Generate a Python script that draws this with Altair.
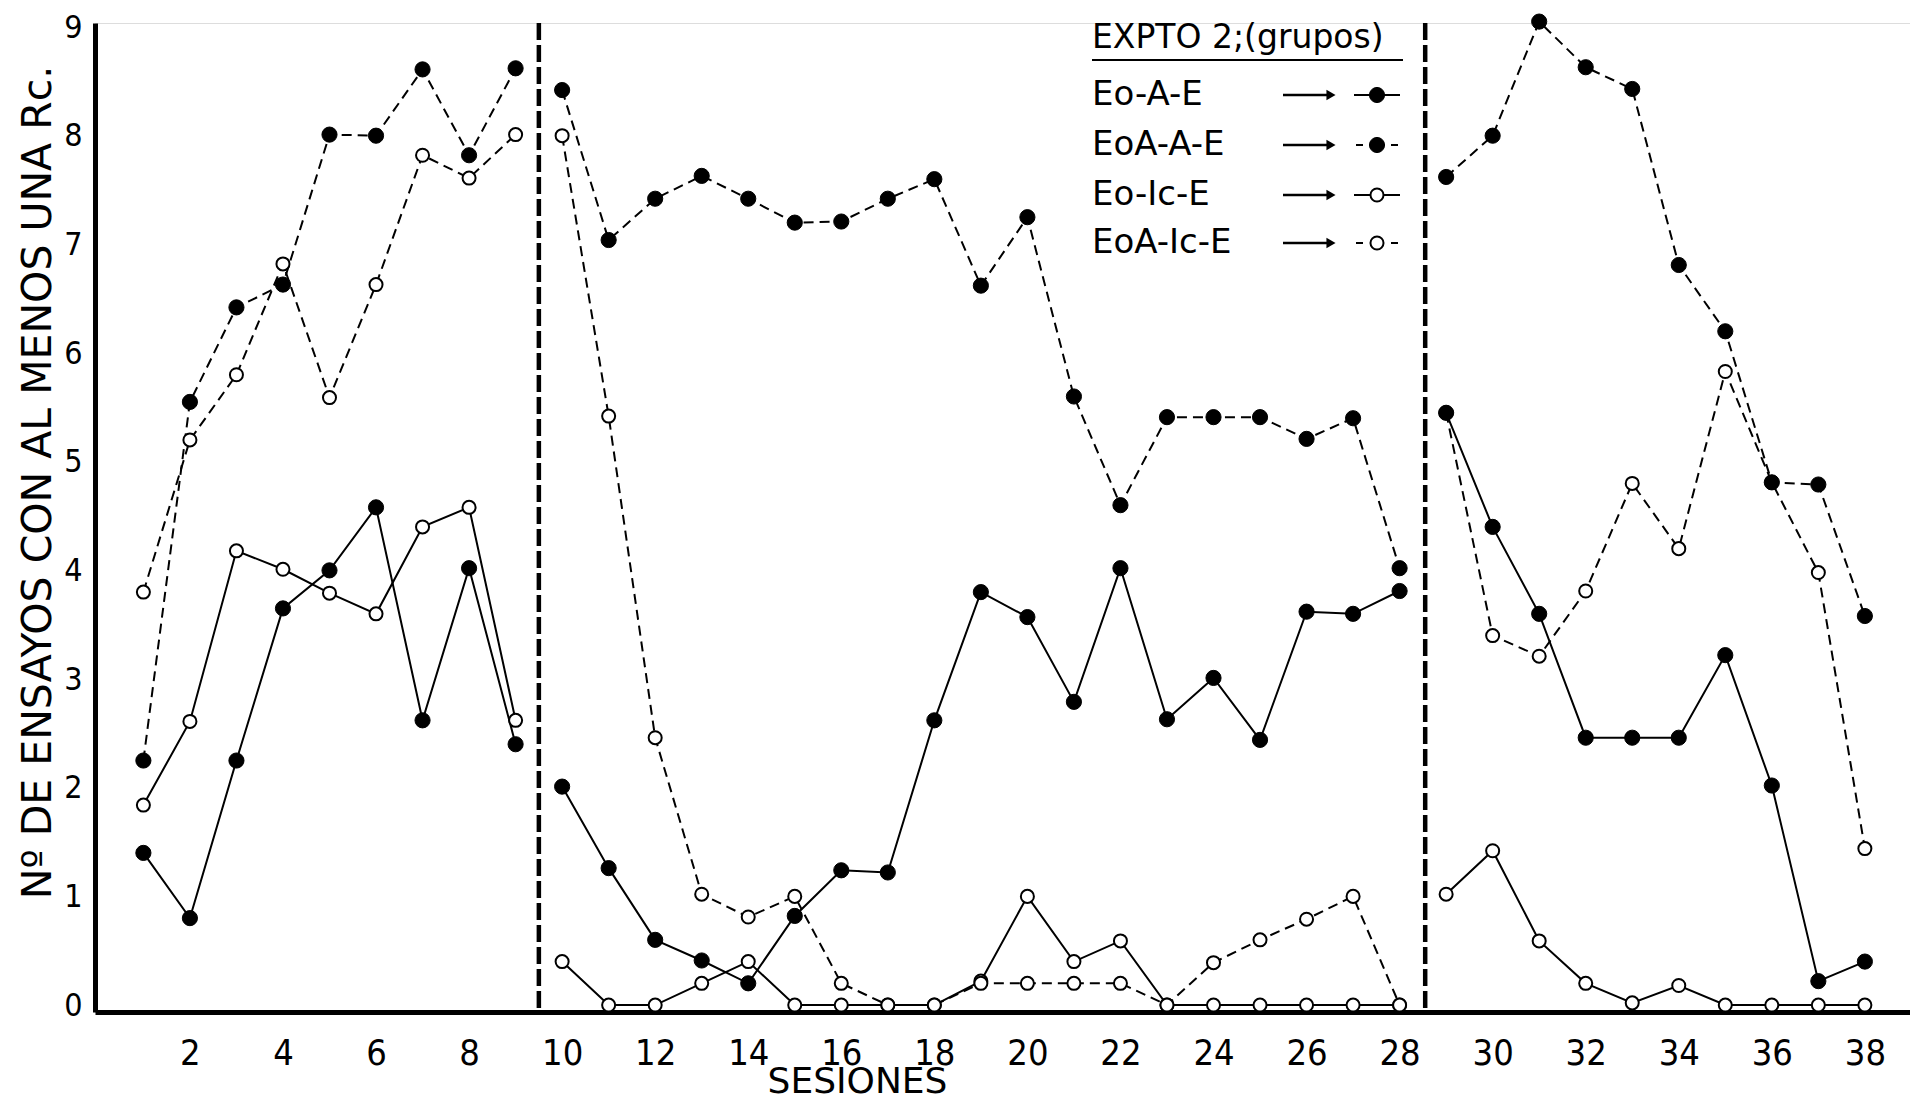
import altair as alt
import pandas as pd

# ---------------- data ----------------
sessions = list(range(1, 39))
series_names = ["Eo-A-E", "EoA-A-E", "Eo-Ic-E", "EoA-Ic-E"]

eo_a_e = [1.4, 0.8, 2.25, 3.65, 4.0, 4.58, 2.62, 4.02, 2.4,
          2.01, 1.26, 0.6, 0.41, 0.2, 0.82, 1.24, 1.22, 2.62, 3.8,
          3.57, 2.79, 4.02, 2.63, 3.01, 2.44, 3.62, 3.6, 3.81,
          5.45, 4.4, 3.6, 2.46, 2.46, 2.46, 3.22, 2.02, 0.22, 0.4]

eoa_a_e = [2.25, 5.55, 6.42, 6.63, 8.01, 8.0, 8.61, 7.82, 8.62,
           8.42, 7.04, 7.42, 7.63, 7.42, 7.2, 7.21, 7.42, 7.6, 6.62,
           7.25, 5.6, 4.6, 5.41, 5.41, 5.41, 5.21, 5.4, 4.02,
           7.62, 8.0, 9.05, 8.63, 8.43, 6.81, 6.2, 4.81, 4.79, 3.58]

eo_ic_e = [1.84, 2.61, 4.18, 4.01, 3.79, 3.6, 4.4, 4.58, 2.62,
           0.4, 0.0, 0.0, 0.2, 0.4, 0.0, 0.0, 0.0, 0.0, 0.22,
           1.0, 0.4, 0.59, 0.0, 0.0, 0.0, 0.0, 0.0, 0.0,
           1.02, 1.42, 0.59, 0.2, 0.02, 0.18, 0.0, 0.0, 0.0, 0.0]

eoa_ic_e = [3.8, 5.2, 5.8, 6.82, 5.59, 6.63, 7.82, 7.61, 8.01,
            8.0, 5.42, 2.46, 1.02, 0.81, 1.0, 0.2, 0.0, 0.0, 0.2,
            0.2, 0.2, 0.2, 0.0, 0.39, 0.6, 0.79, 1.0, 0.0,
            5.45, 3.4, 3.21, 3.81, 4.8, 4.2, 5.83, 4.81, 3.98, 1.44]

segment_last = [9, 28]          # lines are broken after these sessions
break_positions = [9.5, 28.55]  # vertical dashed separators
x_ticks = list(range(2, 39, 2))
y_ticks = list(range(0, 10))

# ---------------- table ----------------
rows = []
for name, vals in zip(series_names, [eo_a_e, eoa_a_e, eo_ic_e, eoa_ic_e]):
    for s, v in zip(sessions, vals):
        seg = 1 if s <= segment_last[0] else (2 if s <= segment_last[1] else 3)
        rows.append({
            "session": s, "value": v, "series": name,
            "grp": f"{name}|{seg}",
            "marker": "filled" if "-A-" in name else "open",
            "line": "dashed" if name.startswith("EoA") else "solid",
        })
df = pd.DataFrame(rows)

W, H = 1815, 989
TICK_FONT = "Liberation Sans Narrow, DejaVu Sans Condensed, DejaVu Sans, sans-serif"
TEXT_FONT = "DejaVu Sans, sans-serif"

xs = alt.Scale(domain=[-0.04, 38.97], nice=False, zero=False)
ys = alt.Scale(domain=[-0.064, 9.037], nice=False, zero=False)

x_axis = alt.Axis(values=x_ticks, title="SESIONES", grid=False, ticks=False,
                  domainWidth=5, domainColor="black", labelFont=TICK_FONT,
                  labelFontSize=36, labelColor="black", labelPadding=24,
                  titleFont=TEXT_FONT, titleFontSize=36, titleFontWeight="normal",
                  titleColor="black", titleX=762, titleY=80,
                  titleBaseline="alphabetic", titleAlign="center")
y_axis = alt.Axis(values=y_ticks, title="Nº DE ENSAYOS CON AL MENOS UNA Rc.",
                  grid=False, ticks=False, domainWidth=5, domainColor="black",
                  labelFont=TICK_FONT, labelFontSize=32, labelColor="black",
                  labelPadding=13, titleFont=TEXT_FONT, titleFontSize=41,
                  titleFontWeight="normal", titleColor="black", titleAngle=270,
                  titleX=-57, titleY=459, titleAlign="center", titleBaseline="middle")

base = alt.Chart(df)
enc = dict(x=alt.X("session:Q", scale=xs, axis=x_axis),
           y=alt.Y("value:Q", scale=ys, axis=y_axis),
           detail="grp:N")

solid_lines = base.transform_filter("datum.line == 'solid'").mark_line(
    color="black", strokeWidth=2).encode(**enc)
dashed_lines = base.transform_filter("datum.line == 'dashed'").mark_line(
    color="black", strokeWidth=2, strokeDash=[10, 6]).encode(**enc)
open_pts = base.transform_filter("datum.marker == 'open'").mark_point(
    shape="circle", filled=True, fill="white", stroke="black", strokeWidth=2,
    size=170, opacity=1).encode(**enc)
filled_pts = base.transform_filter("datum.marker == 'filled'").mark_point(
    shape="circle", filled=True, fill="black", stroke="black", strokeWidth=1,
    size=230, opacity=1).encode(**enc)

separators = alt.Chart(pd.DataFrame({"b": break_positions})).mark_rule(
    color="black", strokeWidth=4.5, strokeDash=[17, 5]).encode(
    x=alt.X("b:Q", scale=xs, axis=x_axis), y=alt.value(0), y2=alt.value(H))

# ---------------- hand-made legend ----------------
one = pd.DataFrame({"k": [0]})
LX = 997
legend_layers = [
    alt.Chart(pd.DataFrame({"t": ["EXPTO 2;(grupos)"]})).mark_text(
        align="left", baseline="alphabetic", font=TEXT_FONT, fontSize=33,
        color="black").encode(x=alt.value(LX), y=alt.value(25), text="t:N"),
    alt.Chart(one).mark_rule(color="black", strokeWidth=2).encode(
        x=alt.value(LX), x2=alt.value(1308), y=alt.value(37)),
]
row_y = [72, 122, 172, 220]
for name, yy in zip(series_names, row_y):
    filled = "-A-" in name
    dashed = name.startswith("EoA")
    legend_layers.append(
        alt.Chart(pd.DataFrame({"t": [name]})).mark_text(
            align="left", baseline="middle", font=TEXT_FONT, fontSize=34,
            color="black").encode(x=alt.value(LX), y=alt.value(yy), text="t:N"))
    legend_layers.append(alt.Chart(one).mark_rule(color="black", strokeWidth=2.5).encode(
        x=alt.value(1188), x2=alt.value(1234), y=alt.value(yy)))
    legend_layers.append(alt.Chart(one).mark_point(
        shape="triangle-right", filled=True, color="black", size=110, opacity=1).encode(
        x=alt.value(1236), y=alt.value(yy)))
    if dashed:
        for a, b in [(1261, 1268), (1296, 1303)]:
            legend_layers.append(alt.Chart(one).mark_rule(color="black", strokeWidth=2).encode(
                x=alt.value(a), x2=alt.value(b), y=alt.value(yy)))
    else:
        legend_layers.append(alt.Chart(one).mark_rule(color="black", strokeWidth=2).encode(
            x=alt.value(1259), x2=alt.value(1305), y=alt.value(yy)))
    legend_layers.append(alt.Chart(one).mark_point(
        shape="circle", filled=True, fill="black" if filled else "white",
        stroke="black", strokeWidth=1 if filled else 2,
        size=230 if filled else 170, opacity=1).encode(x=alt.value(1282), y=alt.value(yy)))

chart = alt.layer(solid_lines, dashed_lines, separators, open_pts, filled_pts,
                  *legend_layers).properties(
    width=W, height=H,
    autosize=alt.AutoSizeParams(type="none"),
    padding={"left": 87, "top": 15, "right": 0, "bottom": 90},
).configure_view(strokeWidth=0).configure(background="white")

chart.save("out.html", embed_options={"renderer": "svg", "actions": False})
